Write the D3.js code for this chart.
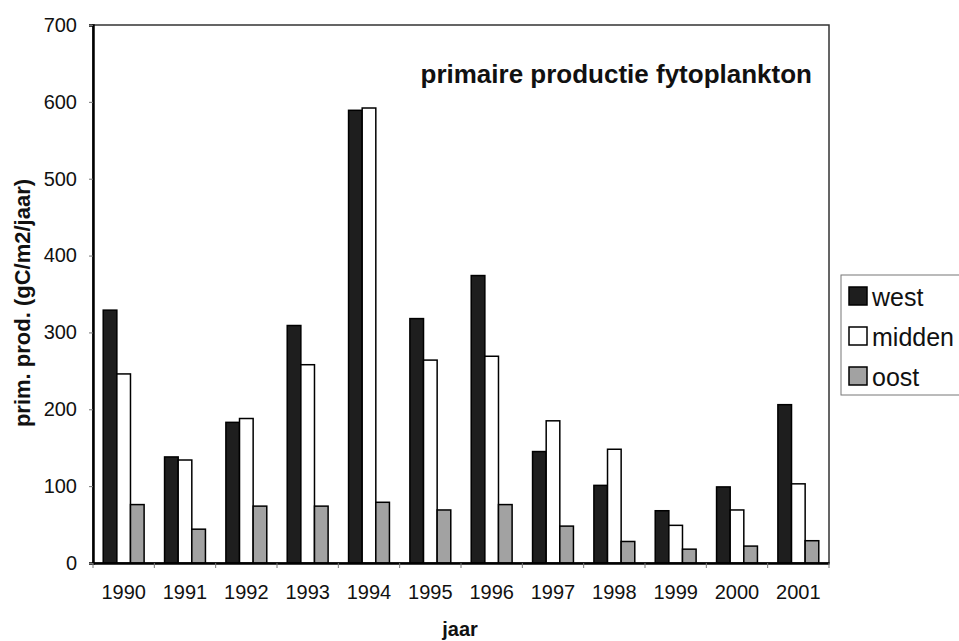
<!DOCTYPE html>
<html lang="nl">
<head>
<meta charset="utf-8">
<title>primaire productie fytoplankton</title>
<script src="https://d3js.org/d3.v7.min.js"></script>
<style>
  body { margin: 0; background: #fff; }
  text { font-family: Arial, "Liberation Sans", sans-serif; fill: #111; }
</style>
</head>
<body>
<div id="chart"></div>
<script>
// data
var years = ["1990", "1991", "1992", "1993", "1994", "1995", "1996", "1997", "1998", "1999", "2000", "2001"];
var west   = [329, 138, 183, 309, 589, 318, 374, 145, 101, 68, 99, 206];
var midden = [246, 134, 188, 258, 592, 264, 269, 185, 148, 49, 69, 103];
var oost   = [76, 44, 74, 74, 79, 69, 76, 48, 28, 18, 22, 29];
var seriesNames = ["west", "midden", "oost"];
var yTicks = [0, 100, 200, 300, 400, 500, 600, 700];

var width = 959, height = 641;
var plotLeft = 93, plotRight = 829, plotTop = 25, plotBottom = 563;

var colors = { west: "#1e1e1e", midden: "#ffffff", oost: "#a2a2a2" };
var values = { west: west, midden: midden, oost: oost };

var svg = d3.select('#chart')
    .append('svg')
    .attr('width', width)
    .attr('height', height);

var x = d3.scaleBand()
    .domain(years)
    .range([plotLeft, plotRight])
    .paddingInner(0)
    .paddingOuter(0);

// gap width 150% like a spreadsheet chart
var bw = x.bandwidth() / 4.5;
var xs = d3.scaleBand()
    .domain(seriesNames)
    .range([bw * 0.75, bw * 0.75 + bw * 3]);

var y = d3.scaleLinear()
    .domain([0, 700])
    .range([plotBottom, plotTop]);

// plot frame
svg.append('rect')
    .attr('x', plotLeft)
    .attr('y', plotTop)
    .attr('width', plotRight - plotLeft)
    .attr('height', plotBottom - plotTop)
    .attr('fill', 'none')
    .attr('stroke', '#333')
    .attr('stroke-width', 1.5);

// bars
var groups = svg.selectAll('g.year')
    .data(years)
    .enter()
    .append('g')
    .attr('class', 'year')
    .attr('transform', function(d) { return 'translate(' + x(d) + ',0)'; });

groups.selectAll('rect')
    .data(function(d, i) {
        return seriesNames.map(function(s) { return { s: s, v: values[s][i] }; });
    })
    .enter()
    .append('rect')
    .attr('x', function(d) { return xs(d.s); })
    .attr('y', function(d) { return y(d.v); })
    .attr('width', xs.bandwidth())
    .attr('height', function(d) { return plotBottom - y(d.v); })
    .attr('fill', function(d) { return colors[d.s]; })
    .attr('stroke', '#000')
    .attr('stroke-width', 1.5);

// y axis
var yAxis = svg.append('g')
    .attr('transform', 'translate(' + plotLeft + ',0)')
    .call(d3.axisLeft(y).tickValues(yTicks).tickSize(4).tickPadding(12));
yAxis.select('.domain').attr('stroke', '#000').attr('stroke-width', 2.5);
yAxis.selectAll('.tick line').attr('stroke', '#777');
yAxis.selectAll('.tick text').style('font-size', '20px').attr('fill', '#111');

// x axis, ticks between the categories
var xAxis = svg.append('g')
    .attr('transform', 'translate(0,' + plotBottom + ')')
    .call(d3.axisBottom(x).tickSize(0).tickPadding(22));
xAxis.select('.domain').attr('stroke', '#000').attr('stroke-width', 2.5);
xAxis.selectAll('.tick text').style('font-size', '20px').attr('fill', '#111');
svg.append('g').selectAll('line')
    .data(years.concat(['end']))
    .enter()
    .append('line')
    .attr('x1', function(d, i) { return i < years.length ? x(d) : plotRight; })
    .attr('x2', function(d, i) { return i < years.length ? x(d) : plotRight; })
    .attr('y1', plotBottom)
    .attr('y2', plotBottom + 5)
    .attr('stroke', '#777');

// titles
svg.append('text')
    .attr('x', 812)
    .attr('y', 83)
    .attr('text-anchor', 'end')
    .style('font-size', '26px')
    .style('font-weight', 'bold')
    .text('primaire productie fytoplankton');

svg.append('text')
    .attr('transform', 'translate(30,303) rotate(-90)')
    .attr('text-anchor', 'middle')
    .style('font-size', '22px')
    .style('font-weight', 'bold')
    .text('prim. prod. (gC/m2/jaar)');

svg.append('text')
    .attr('x', 460)
    .attr('y', 636)
    .attr('text-anchor', 'middle')
    .style('font-size', '20px')
    .style('font-weight', 'bold')
    .text('jaar');

// legend
var legend = svg.append('g');
legend.append('rect')
    .attr('x', 841)
    .attr('y', 275)
    .attr('width', 140)
    .attr('height', 120)
    .attr('fill', '#fff')
    .attr('stroke', '#777')
    .attr('stroke-width', 1);

var items = legend.selectAll('g.item')
    .data(seriesNames)
    .enter()
    .append('g')
    .attr('class', 'item')
    .attr('transform', function(d, i) { return 'translate(849,' + (287 + i * 40) + ')'; });

items.append('rect')
    .attr('width', 18)
    .attr('height', 18)
    .attr('fill', function(d) { return colors[d]; })
    .attr('stroke', '#000')
    .attr('stroke-width', 1.5);

items.append('text')
    .attr('x', 23)
    .attr('y', 19)
    .style('font-size', '25px')
    .text(function(d) { return d; });
</script>
</body>
</html>
